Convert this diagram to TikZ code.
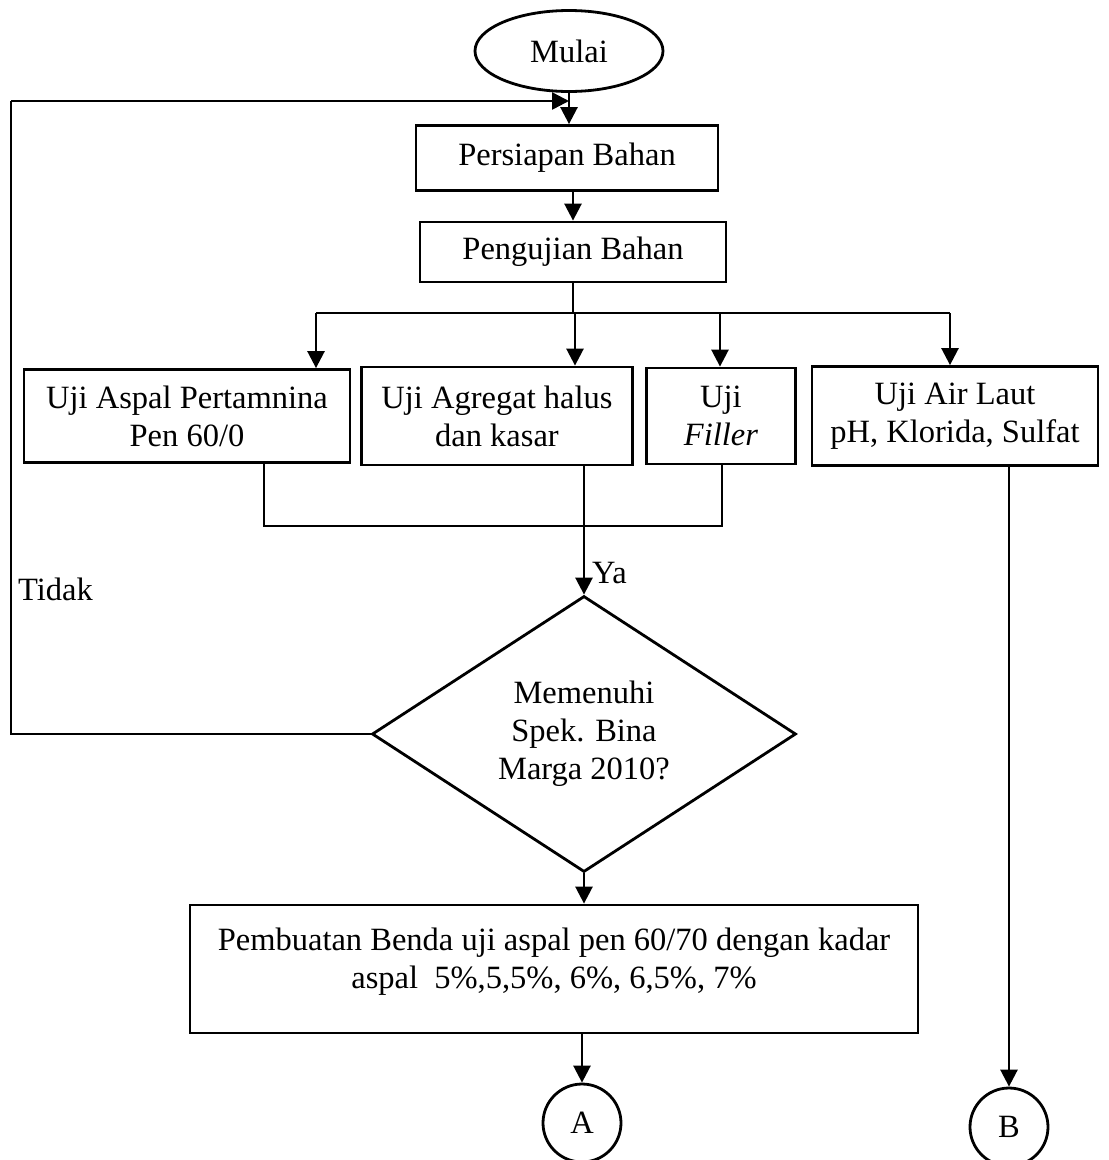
\documentclass[tikz,border=0pt]{standalone}
\usepackage{fontspec}
\setmainfont{Liberation Serif}
\usetikzlibrary{arrows.meta, shapes.geometric, positioning, calc}

\begin{document}
\begin{tikzpicture}[x=1pt, y=-1pt,
    font=\fontsize{32.5}{38}\selectfont,
    kotak/.style={draw, line width=2.8pt, align=center, inner sep=0pt},
    garis/.style={line width=2pt},
    tipis/.style={line width=1.2pt},
    panah/.style={line width=2.6pt, -{Triangle[length=17pt, width=17pt]}}]
  \useasboundingbox (0,0) rectangle (1109,1160);
  \node[kotak, ellipse, minimum width=188pt, minimum height=81pt] (mulai) at (569,51) {Mulai};
  \node[kotak, minimum width=302pt, minimum height=65pt] (siap) at (567,158) {Persiapan Bahan};
  \node[kotak, minimum width=306pt, minimum height=60pt] (uji) at (573,252) {Pengujian Bahan};
  \node[kotak, minimum width=326pt, minimum height=93pt] (aspal) at (187,416) {Uji Aspal Pertamnina\\Pen 60/0};
  \node[kotak, minimum width=271pt, minimum height=98pt] (agregat) at (497,416) {Uji Agregat halus\\dan kasar};
  \node[kotak, minimum width=149pt, minimum height=96pt] (filler) at (721,416) {Uji\\\textit{Filler}};
  \node[kotak, minimum width=286pt, minimum height=99pt] (airlaut) at (955,416) {Uji Air Laut\\pH, Klorida, Sulfat};
  \node[kotak, diamond, aspect=1.5, minimum width=424pt, minimum height=276pt] (cek) at (584,734) {Memenuhi\\Spek. Bina\\Marga 2010?};
  \node[kotak, minimum width=728pt, minimum height=128pt] (buat) at (554,969) {};
  \node[align=center] (buatteks) at (554,962) {Pembuatan Benda uji aspal pen 60/70 dengan kadar\\aspal\ \ 5\%,5,5\%, 6\%, 6,5\%, 7\%};
  \node[kotak, circle, minimum size=78pt] (konA) at (582,1123) {A};
  \node[kotak, circle, minimum size=78pt] (konB) at (1009,1127) {B};
  \node[anchor=west, inner sep=0pt] (ya) at (592,573) {Ya};
  \node[anchor=west, inner sep=0pt] (tidak) at (18,589) {Tidak};

  \coordinate (kiri) at (11,101);
  \coordinate (masuk) at (569,101);
  \coordinate (cabang) at (573,313);
  \coordinate (c1) at (316,313);
  \coordinate (c2) at (575,313);
  \coordinate (c3) at (720,313);
  \coordinate (c4) at (950,313);
  \coordinate (g1) at (264,526);
  \coordinate (g2) at (584,526);
  \coordinate (g3) at (722,526);

  \draw[panah] (mulai.south) -- (mulai.south |- siap.north);
  \draw[panah] (uji.north |- siap.south) -- (uji.north);
  \draw[garis] (uji.south) -- (cabang);
  \draw[garis] (c1) -- (c4);
  \draw[panah] (c1) -- (c1 |- aspal.north);
  \draw[panah] (c2) -- (c2 |- agregat.north);
  \draw[panah] (c3) -- (c3 |- filler.north);
  \draw[panah] (c4) -- (c4 |- airlaut.north);
  \draw[tipis] (g1 |- aspal.south) -- (g1) -- (g3) -- (g3 |- filler.south);
  \draw[tipis] (g2 |- agregat.south) -- (g2);
  \draw[panah] (g2) -- (g2 |- cek.north);
  \draw[tipis] (cek.west) -| (kiri);
  \draw[panah] (kiri) -- (masuk);
  \draw[panah] (cek.south) -- (cek.south |- buat.north);
  \draw[panah] (konA.north |- buat.south) -- (konA.north);
  \draw[panah] (konB.north |- airlaut.south) -- (konB.north);
\end{tikzpicture}
\end{document}
